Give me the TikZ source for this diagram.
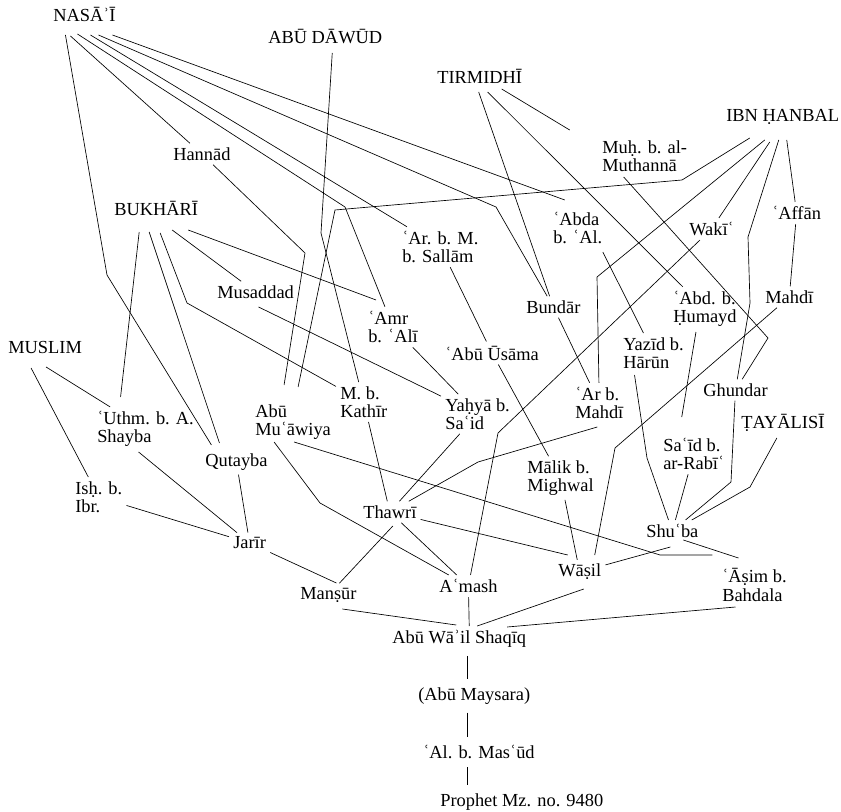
\documentclass[tikz,border=0pt]{standalone}
\usepackage{fontspec}
\setmainfont{Liberation Serif}
\usetikzlibrary{calc}

\tikzset{
  rawi/.style={anchor=west,align=left,inner xsep=3pt,inner ysep=3pt,
    font=\fontsize{13.8}{13.8}\selectfont},
  isnad/.style={line width=0.5pt},
  stem/.style={isnad,shorten <=3pt,shorten >=3pt},
}

\begin{document}
\begin{tikzpicture}[x=0.75pt,y=-0.75pt]
  \useasboundingbox (0,0) rectangle (841,812);
  \coordinate (spine) at (467,0);
  % collectors
  \node[rawi] (nasai) at (49,14) {NASĀʾĪ};
  \node[rawi] (abudawud) at (264,37) {ABŪ DĀWŪD};
  \node[rawi] (tirmidhi) at (433,76) {TIRMIDHĪ};
  \node[rawi] (ibnhanbal) at (722,117) {IBN ḤANBAL};
  \node[rawi] (bukhari) at (110,208) {BUKHĀRĪ};
  \node[rawi] (muslim) at (4,347) {MUSLIM};
  \node[rawi] (tayalisi) at (737,423) {ṬAYĀLISĪ};
  % transmitters
  \node[rawi] (hannad) at (169,154) {Hannād};
  \node[rawi] (muhammad) at (598,156) {Muḥ. b. al-\\Muthannā};
  \node[rawi] (abda) at (549,228) {ʿAbda\\b. ʿAl.};
  \node[rawi] (waki) at (685,229) {Wakīʿ};
  \node[rawi] (affan) at (768,213) {ʿAffān};
  \node[rawi] (arbm) at (398,247) {ʿAr. b. M.\\b. Sallām};
  \node[rawi] (musaddad) at (213,292) {Musaddad};
  \node[rawi] (amr) at (364,327) {ʿAmr\\b. ʿAlī};
  \node[rawi] (bundar) at (522,307) {Bundār};
  \node[rawi] (mahdi) at (761,297) {Mahdī};
  \node[rawi] (abdh) at (669,309) {ʿAbd. b.\\Ḥumayd};
  \node[rawi] (yazid) at (619,353) {Yazīd b.\\Hārūn};
  \node[rawi] (abuusama) at (441,353) {ʿAbū Ūsāma};
  \node[rawi] (uthm) at (93,429) {ʿUthm. b. A.\\Shayba};
  \node[rawi] (abumuawiya) at (251,422) {Abū\\Muʿāwiya};
  \node[rawi] (mbk) at (336,402) {M. b.\\Kathīr};
  \node[rawi] (yahya) at (441,414) {Yaḥyā b.\\Saʿid};
  \node[rawi] (arm) at (571,403) {ʿAr b.\\Mahdī};
  \node[rawi] (ghundar) at (699,390) {Ghundar};
  \node[rawi] (said) at (659,454) {Saʿīd b.\\ar-Rabīʿ};
  \node[rawi] (qutayba) at (201,462) {Qutayba};
  \node[rawi] (ishaq) at (71,497) {Isḥ. b.\\Ibr.};
  \node[rawi] (malik) at (523,478) {Mālik b.\\Mighwal};
  \node[rawi] (thawri) at (359,512) {Thawrī};
  \node[rawi] (shuba) at (642,531) {Shuʿba};
  \node[rawi] (jarir) at (229,543) {Jarīr};
  \node[rawi] (wasil) at (554,572) {Wāṣil};
  \node[rawi] (asim) at (718,585) {ʿĀṣim b.\\Bahdala};
  \node[rawi] (amash) at (435,586) {Aʿmash};
  \node[rawi] (mansur) at (296,595) {Manṣūr};
  \node[rawi] (abuwail) at (388,639) {Abū Wāʾil Shaqīq};
  \node[rawi] (maysara) at (414,696) {(Abū Maysara)};
  \node[rawi] (masud) at (419,752) {ʿAl. b. Masʿūd};
  \node[rawi] (prophet) at (436,802) {Prophet Mz. no. 9480};
  % Nasa'i
  \draw[isnad] ($(nasai)+(-19,21)$) -- (107,275) -- ($(qutayba)+(-25,-17)$);
  \draw[isnad] ($(nasai)+(-14,22)$) -- (hannad);
  \draw[isnad] ($(nasai)+(-7,20)$) -- (345,207) -- (amr);
  \draw[isnad] ($(nasai)+(6,21)$) -- (arbm);
  \draw[isnad] ($(nasai)+(14,21)$) -- (496,207) -- (bundar);
  \draw[isnad] ($(nasai)+(28,21)$) -- ($(abda)+(-13,-28)$);
  % Abu Dawud, Tirmidhi
  \draw[isnad] ($(abudawud)+(7,16)$) -- (321,233) -- (mbk);
  \draw[isnad] ($(tirmidhi)+(-1,16)$) -- (bundar);
  \draw[isnad] ($(tirmidhi)+(8,16)$) -- (abdh);
  \draw[isnad] ($(tirmidhi)+(22,13)$) -- ($(muhammad)+(-75,-26)$);
  % Ibn Hanbal
  \draw[isnad] ($(ibnhanbal)+(-33,21)$) -- (682,180) -- (335,210)
    -- ($(abumuawiya)+(5,-35)$);
  \draw[isnad] ($(ibnhanbal)+(-18,23)$) -- (597,277) -- (arm);
  \draw[isnad] ($(ibnhanbal)+(-13,25)$) -- (waki);
  \draw[isnad] ($(ibnhanbal)+(-4,23)$) -- (748,237) -- (750,303) -- (ghundar);
  \draw[isnad] ($(ibnhanbal)+(4,23)$) -- (affan);
  % Bukhari, Muslim
  \draw[isnad] ($(bukhari)+(-17,24)$) -- ($(uthm)+(-25,-32)$);
  \draw[isnad] ($(bukhari)+(-7,24)$) -- ($(qutayba)+(-17,-19)$);
  \draw[isnad] ($(bukhari)+(4,25)$) -- (187,303) -- (mbk);
  \draw[isnad] ($(bukhari)+(16,22)$) -- (musaddad);
  \draw[isnad] ($(bukhari)+(32,22)$) -- ($(amr)+(-17,-27)$);
  \draw[isnad] ($(muslim)+(1,20)$) -- (uthm);
  \draw[isnad] ($(muslim)+(-14,21)$) -- (ishaq);
  % middle links
  \draw[isnad] (hannad) -- (305,253) -- ($(abumuawiya)+(-9,-37)$);
  \draw[isnad] (arbm) -- (abuusama);
  \draw[isnad] (abuusama) -- (malik);
  \draw[isnad] ($(musaddad)+(3,15)$) -- (yahya);
  \draw[isnad] (amr) -- (yahya);
  \draw[isnad] (bundar) -- (arm);
  \draw[isnad] ($(abda)+(25,24)$) -- (yazid);
  \draw[isnad] ($(muhammad)+(-21,21)$) -- (768,338) -- (ghundar);
  \draw[isnad] (waki) -- (498,433) -- (amash);
  \draw[isnad] (affan) -- (mahdi);
  \draw[isnad] (mahdi) -- (615,448) -- ($(wasil)+(15,-17)$);
  \draw[isnad] ($(abdh)+(-9,23)$) -- ($(said)+(-12,-37)$);
  \draw[isnad] ($(yazid)+(-19,22)$) -- (647,458) -- (shuba);
  \draw[isnad] (said) -- (shuba);
  \draw[isnad] (ghundar) -- (731,482) -- (shuba);
  \draw[isnad] ($(tayalisi)+(-6,15)$) -- (750,487) -- (shuba);
  \draw[isnad] (mbk) -- (thawri);
  \draw[isnad] (yahya) -- (thawri);
  \draw[isnad] ($(arm)+(-2,24)$) -- (478,462) -- (thawri);
  \draw[isnad] ($(abumuawiya)+(-19,20)$) -- (320,503) -- (amash);
  \draw[isnad] ($(abumuawiya)+(1,20)$) -- (660,555) -- ($(asim)+(-42,-30)$);
  % lower links
  \draw[isnad] (malik) -- (wasil);
  \draw[isnad] (thawri) -- ($(wasil)+(-12,-17)$);
  \draw[isnad] ($(thawri)+(3,14)$) -- (mansur);
  \draw[isnad] (thawri) -- (amash);
  \draw[isnad] ($(shuba)+(-2,16)$) -- (wasil);
  \draw[isnad] ($(shuba)+(11,9)$) -- ($(asim)+(-16,-27)$);
  \draw[isnad] ($(uthm)+(-7,23)$) -- (jarir);
  \draw[isnad] (ishaq) -- (jarir);
  \draw[isnad] (qutayba) -- (jarir);
  \draw[isnad] (jarir) -- ($(mansur)+(8,-12)$);
  \draw[isnad] ($(mansur)+(14,14)$) -- ($(abuwail)+(-3,-14)$);
  \draw[isnad] (amash) -- ($(abuwail)+(10,-13)$);
  \draw[isnad] ($(wasil)+(4,17)$) -- ($(abuwail)+(18,-13)$);
  \draw[isnad] ($(asim)+(-19,22)$) -- ($(abuwail)+(48,-12)$);
  % common link down to the Prophet
  \draw[stem] (abuwail.south -| spine) -- (maysara.north -| spine);
  \draw[stem] (maysara.south -| spine) -- (masud.north -| spine);
  \draw[stem] (masud.south -| spine) -- (prophet.north -| spine);
\end{tikzpicture}
\end{document}
